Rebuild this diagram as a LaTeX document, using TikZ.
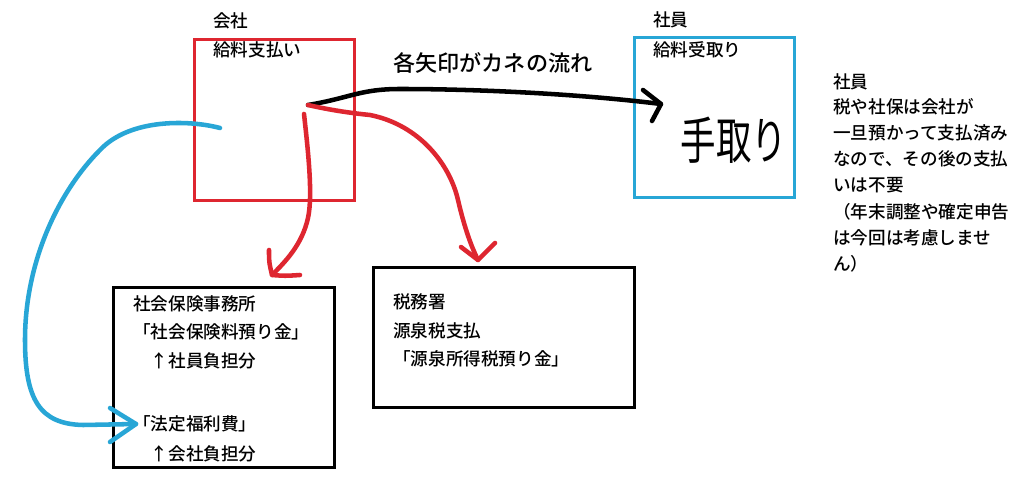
\documentclass[tikz,border=0pt]{standalone}
\usepackage{fontspec}
\usepackage{graphicx}
\setmainfont{Noto Sans CJK JP}[UprightFont={* Medium}]
\newfontfamily\handfont{Noto Sans CJK JP}
\definecolor{boxred}{RGB}{222,38,48}
\definecolor{boxblue}{RGB}{40,166,214}
\begin{document}
\begin{tikzpicture}[x=0.75pt,y=-0.75pt,
  txt/.style={anchor=west,inner sep=0pt,font=\fontsize{13.2}{14}\selectfont},
  ttl/.style={anchor=west,inner sep=0pt,font=\fontsize{16.6}{18}\selectfont},
  frame/.style={draw,line width=2.2pt},
  pen/.style={line width=3.4pt,line cap=round,line join=round}]
\useasboundingbox (0,0) rectangle (1024,477);
\fill[white] (0,0) rectangle (1024,477);

% boxes
\node[frame,draw=boxred,minimum width=160*0.75pt,minimum height=161*0.75pt,anchor=north west,inner sep=0pt] (co) at (193,38) {};
\node[frame,draw=boxblue,minimum width=160*0.75pt,minimum height=160*0.75pt,anchor=north west,inner sep=0pt] (em) at (633,36) {};
\node[frame,draw=black,minimum width=221*0.75pt,minimum height=180*0.75pt,anchor=north west,inner sep=0pt] (si) at (112,286) {};
\node[frame,draw=black,minimum width=261*0.75pt,minimum height=140*0.75pt,anchor=north west,inner sep=0pt] (tx) at (372,266) {};

% labels
\node[txt] (coL) at (213,21) {会社};
\node[txt] (coT) at (213,50) {給料支払い};
\node[txt] (emL) at (653,20) {社員};
\node[txt] (emT) at (653,50) {給料受取り};
\node[ttl] (title) at (393,63) {各矢印がカネの流れ};
\node[anchor=center,inner sep=0pt] (tedori) at (734,140)
  {\scalebox{0.7}[1]{\handfont\fontsize{38}{38}\selectfont 手取り}};

% note on the right
\node[txt] (n1) at (833,82) {社員};
\node[txt] (n2) at (833,107) {税や社保は会社が};
\node[txt] (n3) at (833,133) {一旦預かって支払済み};
\node[txt] (n4) at (833,159) {なので、その後の支払};
\node[txt] (n5) at (833,185) {いは不要};
\node[txt] (n6) at (833,212) {（年末調整や確定申告};
\node[txt] (n7) at (833,238) {は今回は考慮しませ};
\node[txt] (n8) at (833,264) {ん）};

% social insurance box texts
\node[txt] (s1) at (133,304) {社会保険事務所};
\node[txt] (s2) at (133,332) {「社会保険料預り金」};
\node[txt] (s3) at (133,361) {　↑社員負担分};
\node[txt] (s4) at (133,424) {「法定福利費」};
\node[txt] (s5) at (133,454) {　↑会社負担分};

% tax office texts
\node[txt] (t1) at (393,302) {税務署};
\node[txt] (t2) at (393,331) {源泉税支払};
\node[txt] (t3) at (393,359) {「源泉所得税預り金」};

% connector coordinates
\coordinate (pay) at (308,105);
\coordinate (recv) at (661,104);
\coordinate (redA) at (304,114);
\coordinate (redAend) at (272,275);
\coordinate (redBend) at (478,260);
\coordinate (blueS) at (220,128);
\coordinate (blueE) at (136,424);

% black arrow: company -> employee
\draw[pen,black] (pay) .. controls (350,98) and (360,89) .. (400,89)
  .. controls (480,89) and (580,94) .. (recv);
\draw[pen,black] (643,90) -- (recv) -- (652,121);

% red arrow: company -> social insurance office
\draw[pen,boxred] (redA) .. controls (308,150) and (313,195) .. (308,218)
  .. controls (302,245) and (285,262) .. (redAend);
\draw[pen,boxred] (269,250) .. controls (269,262) .. (redAend) .. controls (285,276) .. (300,275);

% red arrow: company -> tax office
\draw[pen,boxred] (pay) .. controls (330,110) and (350,113) .. (370,115)
  .. controls (420,125) and (450,165) .. (458,200)
  .. controls (465,230) and (472,248) .. (redBend);
\draw[pen,boxred] (461,247) .. controls (470,254) .. (redBend) .. controls (486,252) .. (495,243);

% blue arrow: company -> statutory welfare
\draw[pen,boxblue] (blueS) .. controls (190,120) and (130,118) .. (100,150)
  .. controls (60,190) and (25,260) .. (25,340)
  .. controls (25,400) and (40,424) .. (83,425)
  -- (blueE);
\draw[pen,boxblue] (110,408) -- (blueE) -- (110,442);
\end{tikzpicture}
\end{document}
